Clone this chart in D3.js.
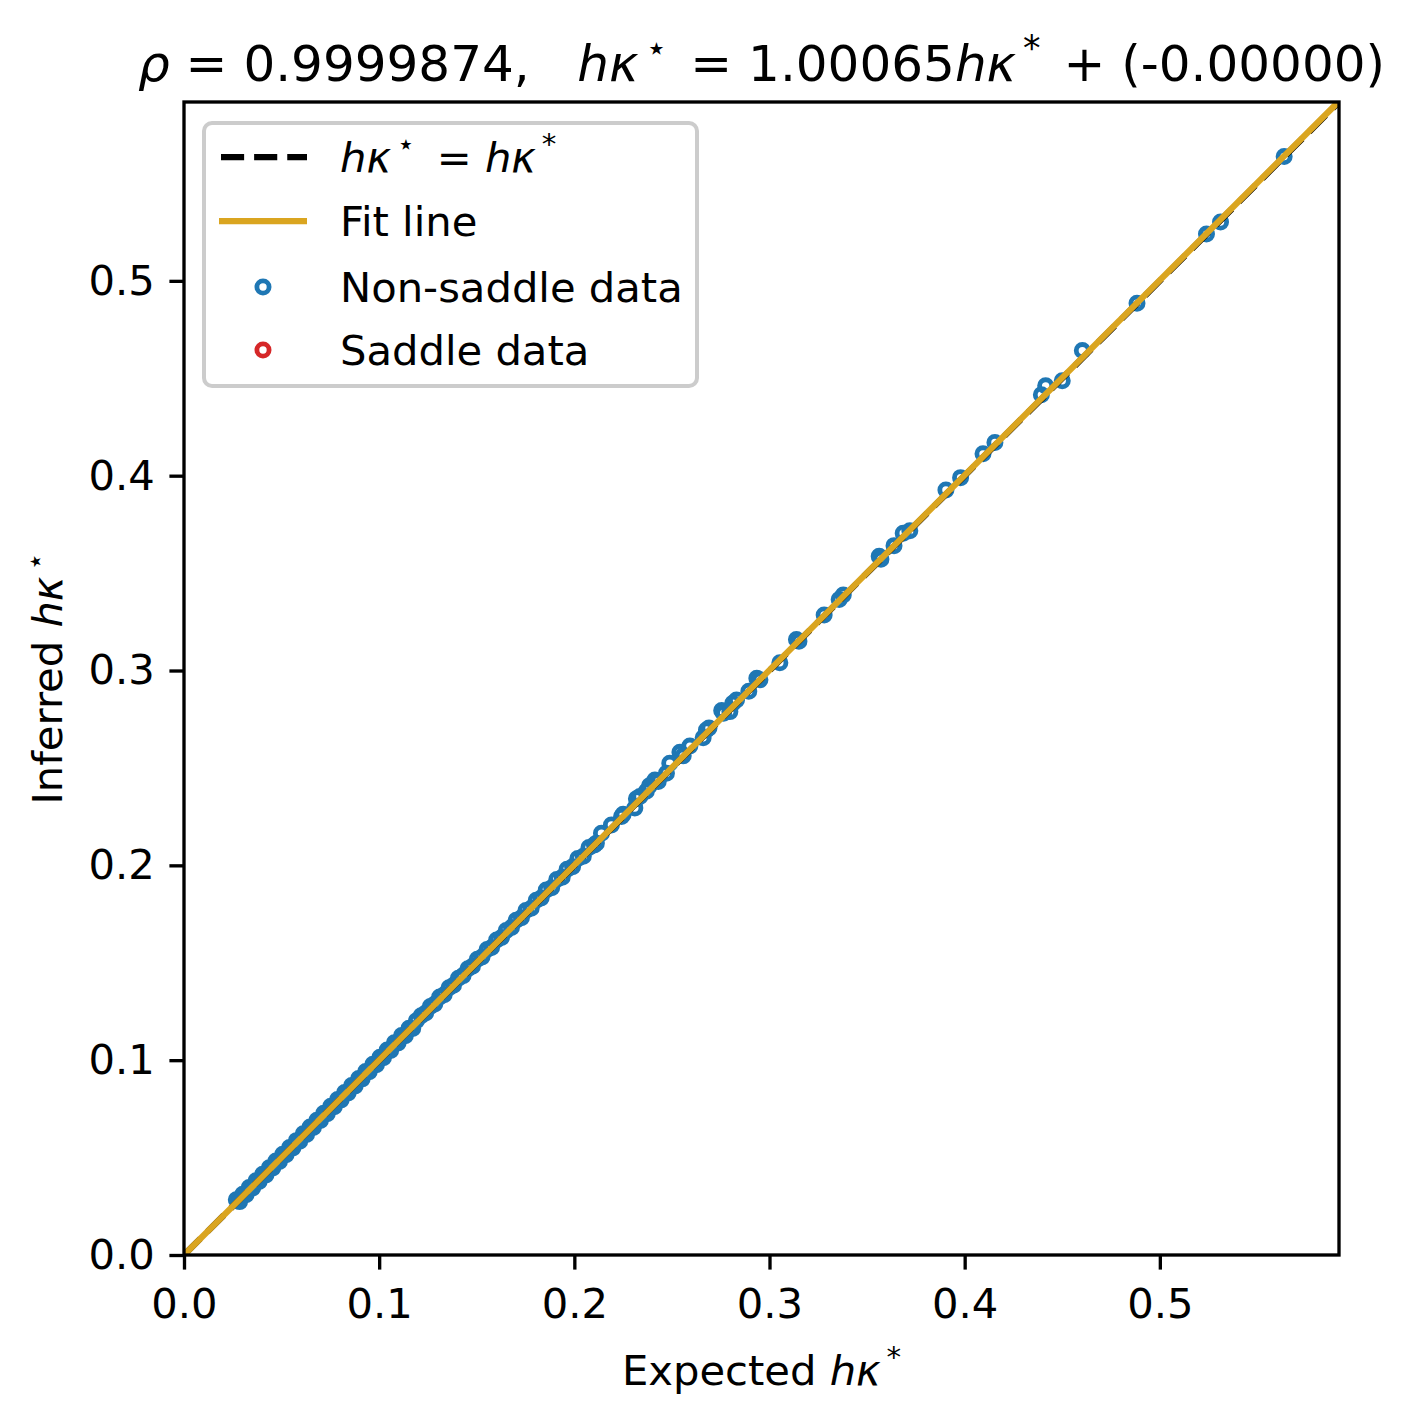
<!DOCTYPE html>
<html lang="en">
  <head>
    <meta charset="UTF-8">
    <title>Inferred vs expected</title>
    <style>
      body { margin: 0; background: #fff; }
      svg { display: block; }
      text { font-family: "DejaVu Sans", sans-serif; fill: #000; white-space: pre; }
    </style>
    <script src="https://d3js.org/d3.v7.min.js"></script>
  </head>
  <body>
    <script>
      // values
      var nonSaddleExpected = [
        0.0268, 0.0285, 0.0301, 0.0318, 0.0334, 0.0352, 0.0369, 0.0385, 0.0403, 0.0420,
        0.0437, 0.0455, 0.0471, 0.0489, 0.0506, 0.0523, 0.0541, 0.0558, 0.0576, 0.0593,
        0.0611, 0.0628, 0.0646, 0.0663, 0.0681, 0.0699, 0.0716, 0.0734, 0.0752, 0.0770,
        0.0787, 0.0805, 0.0823, 0.0841, 0.0859, 0.0877, 0.0895, 0.0913, 0.0931, 0.0949,
        0.0968, 0.0986, 0.1004, 0.1022, 0.1041, 0.1059, 0.1078, 0.1097, 0.1115, 0.1134,
        0.1153, 0.1172, 0.1191, 0.1215, 0.1238, 0.1262, 0.1285, 0.1310, 0.1333, 0.1358,
        0.1381, 0.1406, 0.1430, 0.1455, 0.1478, 0.1503, 0.1527, 0.1553, 0.1576, 0.1602,
        0.1627, 0.1651, 0.1678, 0.1702, 0.1729, 0.1752, 0.1779, 0.1805, 0.1830, 0.1856,
        0.1884, 0.1910, 0.1938, 0.1963, 0.1991, 0.2018, 0.2046, 0.2075, 0.2103, 0.2113,
        0.2139, 0.2190, 0.2242, 0.2250, 0.2310, 0.2318, 0.2336, 0.2369, 0.2385, 0.2413,
        0.2430, 0.2472, 0.2489, 0.2541, 0.2558, 0.2592, 0.2660, 0.2677, 0.2690, 0.2755,
        0.2765, 0.2797, 0.2812, 0.2831, 0.2894, 0.2935, 0.2951, 0.3053, 0.3138, 0.3151,
        0.3280, 0.3357, 0.3378, 0.3562, 0.3571, 0.3638, 0.3685, 0.3719, 0.3904, 0.3979,
        0.4094, 0.4155, 0.4393, 0.4415, 0.4500, 0.4603, 0.4883, 0.5239, 0.5311, 0.5637
      ];
      var nonSaddleInferred = [
        0.0283, 0.0274, 0.0312, 0.0309, 0.0346, 0.0344, 0.0381, 0.0377, 0.0414, 0.0411,
        0.0448, 0.0446, 0.0482, 0.0480, 0.0517, 0.0514, 0.0552, 0.0549, 0.0587, 0.0584,
        0.0622, 0.0619, 0.0657, 0.0654, 0.0692, 0.0690, 0.0727, 0.0725, 0.0763, 0.0761,
        0.0798, 0.0796, 0.0834, 0.0832, 0.0870, 0.0868, 0.0906, 0.0904, 0.0942, 0.0940,
        0.0979, 0.0977, 0.1015, 0.1013, 0.1052, 0.1050, 0.1089, 0.1088, 0.1126, 0.1125,
        0.1164, 0.1163, 0.1202, 0.1228, 0.1242, 0.1275, 0.1288, 0.1324, 0.1336, 0.1372,
        0.1385, 0.1420, 0.1434, 0.1469, 0.1482, 0.1518, 0.1529, 0.1568, 0.1578, 0.1617,
        0.1630, 0.1666, 0.1681, 0.1718, 0.1731, 0.1768, 0.1780, 0.1821, 0.1832, 0.1873,
        0.1885, 0.1927, 0.1939, 0.1980, 0.1993, 0.2035, 0.2047, 0.2091, 0.2105, 0.2114,
        0.2165, 0.2207, 0.2251, 0.2262, 0.2294, 0.2342, 0.2353, 0.2380, 0.2408, 0.2438,
        0.2430, 0.2473, 0.2524, 0.2580, 0.2562, 0.2612, 0.2655, 0.2695, 0.2705, 0.2795,
        0.2781, 0.2789, 0.2832, 0.2849, 0.2894, 0.2960, 0.2952, 0.3040, 0.3159, 0.3150,
        0.3285, 0.3364, 0.3388, 0.3587, 0.3571, 0.3641, 0.3705, 0.3717, 0.3927, 0.3990,
        0.4112, 0.4170, 0.4415, 0.4461, 0.4487, 0.4642, 0.4885, 0.5240, 0.5302, 0.5638
      ];
      var saddleExpected = [];
      var saddleInferred = [];

      var rho = 0.9999874;
      var fitSlope = 1.00065;
      var fitIntercept = -0.0;
      var axisMax = 0.5918;
      var tickValues = [0.0, 0.1, 0.2, 0.3, 0.4, 0.5];

      var W = 1417, H = 1426;
      var pLeft = 184, pTop = 102, pRight = 1339, pBottom = 1255;
      var fs = 41.7;      // 10pt at 300 dpi
      var lw = 6.25;      // 1.5pt
      var spine = 3.33;   // 0.8pt
      var mr = 6.1, mw = 4.8;  // marker radius / ring width

      var svg = d3.select("body").append("svg")
        .attr("width", W)
        .attr("height", H);

      var x = d3.scaleLinear().domain([0, axisMax]).range([pLeft, pRight]);
      var y = d3.scaleLinear().domain([0, axisMax]).range([pBottom, pTop]);

      svg.append("defs").append("clipPath").attr("id", "plot")
        .append("rect")
        .attr("x", pLeft).attr("y", pTop)
        .attr("width", pRight - pLeft).attr("height", pBottom - pTop);

      var plot = svg.append("g").attr("clip-path", "url(#plot)");

      var pts = nonSaddleExpected.map(function (d, i) {
        return { e: d, inf: nonSaddleInferred[i] };
      });
      var spts = saddleExpected.map(function (d, i) {
        return { e: d, inf: saddleInferred[i] };
      });

      plot.selectAll("circle.ns").data(pts).enter().append("circle")
        .attr("class", "ns")
        .attr("cx", function (d) { return x(d.e); })
        .attr("cy", function (d) { return y(d.inf); })
        .attr("r", mr)
        .attr("fill", "none")
        .attr("stroke", "#1f77b4")
        .attr("stroke-width", mw);

      plot.selectAll("circle.sd").data(spts).enter().append("circle")
        .attr("class", "sd")
        .attr("cx", function (d) { return x(d.e); })
        .attr("cy", function (d) { return y(d.inf); })
        .attr("r", mr)
        .attr("fill", "none")
        .attr("stroke", "#d62728")
        .attr("stroke-width", mw);

      var line = d3.line()
        .x(function (d) { return x(d[0]); })
        .y(function (d) { return y(d[1]); });

      plot.append("path")
        .datum([[0, 0], [axisMax, axisMax]])
        .attr("d", line)
        .attr("fill", "none")
        .attr("stroke", "#000")
        .attr("stroke-width", lw)
        .attr("stroke-dasharray", (3.7 * lw) + "," + (1.6 * lw));

      plot.append("path")
        .datum([[0, fitIntercept], [axisMax, fitSlope * axisMax + fitIntercept]])
        .attr("d", line)
        .attr("fill", "none")
        .attr("stroke", "#daa520")
        .attr("stroke-width", lw);

      // axes
      var fmt = d3.format(".1f");
      var gx = svg.append("g")
        .attr("transform", "translate(0," + pBottom + ")")
        .call(d3.axisBottom(x).tickValues(tickValues).tickFormat(fmt)
          .tickSize(14.6).tickSizeOuter(0).tickPadding(18.8));
      var gy = svg.append("g")
        .attr("transform", "translate(" + pLeft + ",0)")
        .call(d3.axisLeft(y).tickValues(tickValues).tickFormat(fmt)
          .tickSize(14.6).tickSizeOuter(0).tickPadding(14.6));

      [gx, gy].forEach(function (g) {
        g.select(".domain").remove();
        g.selectAll(".tick line").attr("stroke", "#000").attr("stroke-width", spine);
        g.selectAll(".tick text")
          .attr("fill", "#000")
          .style("font-size", fs + "px")
          .style("font-family", "'DejaVu Sans', sans-serif");
      });

      svg.append("rect")
        .attr("x", pLeft).attr("y", pTop)
        .attr("width", pRight - pLeft).attr("height", pBottom - pTop)
        .attr("fill", "none")
        .attr("stroke", "#000")
        .attr("stroke-width", spine);

      // mathtext-ish: pieces are [text, italic, superscript]
      function rich(sel, size, parts) {
        var shift = 0;
        parts.forEach(function (p) {
          var up = p[2] ? -0.42 * size : 0;
          var t = sel.append("tspan").text(p[0]).attr("dy", (up - shift));
          shift = up;
          if (p[1]) t.attr("font-style", "italic");
          if (p[2]) t.attr("font-size", (0.7 * size) + "px");
        });
      }

      // title
      var tfs = 50;
      var title = svg.append("text")
        .attr("x", (pLeft + pRight) / 2).attr("y", 81)
        .attr("text-anchor", "middle")
        .style("font-size", tfs + "px");
      rich(title, tfs, [
        ["\u03c1", true], [" = " + rho.toFixed(7) + ",   "],
        ["h\u03ba", true], ["\u2009\u22c6\u2009", false, true],
        [" = " + fitSlope.toFixed(5)],
        ["h\u03ba", true], ["\u2009*\u2009", false, true],
        [" + (-" + Math.abs(fitIntercept).toFixed(5) + ")"]
      ]);

      // axis labels
      var xl = svg.append("text")
        .attr("x", (pLeft + pRight) / 2).attr("y", 1385)
        .attr("text-anchor", "middle")
        .style("font-size", fs + "px");
      rich(xl, fs, [["Expected "], ["h\u03ba", true], ["\u2009*", false, true]]);

      var yl = svg.append("text")
        .attr("transform", "translate(62," + ((pTop + pBottom) / 2) + ") rotate(-90)")
        .attr("text-anchor", "middle")
        .style("font-size", fs + "px");
      rich(yl, fs, [["Inferred "], ["h\u03ba", true], ["\u2009\u22c6", false, true]]);

      // legend
      var lg = svg.append("g");
      lg.append("rect")
        .attr("x", 204).attr("y", 123)
        .attr("width", 493).attr("height", 263)
        .attr("rx", 8).attr("ry", 8)
        .attr("fill", "#fff").attr("fill-opacity", 0.8)
        .attr("stroke", "#cccccc").attr("stroke-width", 4);

      var rows = [157, 221, 287, 350];
      lg.append("line")
        .attr("x1", 221).attr("x2", 307).attr("y1", rows[0]).attr("y2", rows[0])
        .attr("stroke", "#000").attr("stroke-width", lw)
        .attr("stroke-dasharray", (3.7 * lw) + "," + (1.6 * lw));
      lg.append("line")
        .attr("x1", 219).attr("x2", 307).attr("y1", rows[1]).attr("y2", rows[1])
        .attr("stroke", "#daa520").attr("stroke-width", lw);
      lg.append("circle").attr("cx", 263).attr("cy", rows[2]).attr("r", mr)
        .attr("fill", "none").attr("stroke", "#1f77b4").attr("stroke-width", mw);
      lg.append("circle").attr("cx", 263).attr("cy", rows[3]).attr("r", mr)
        .attr("fill", "none").attr("stroke", "#d62728").attr("stroke-width", mw);

      var t0 = lg.append("text")
        .attr("x", 340).attr("y", rows[0] + 15)
        .style("font-size", fs + "px");
      rich(t0, fs, [
        ["h\u03ba", true], ["\u2009\u22c6", false, true], [" \u2009= "],
        ["h\u03ba", true], ["\u2009*", false, true]
      ]);

      lg.append("text").attr("x", 340).attr("y", rows[1] + 15)
        .style("font-size", fs + "px").text("Fit line");
      lg.append("text").attr("x", 340).attr("y", rows[2] + 15)
        .style("font-size", fs + "px").text("Non-saddle data");
      lg.append("text").attr("x", 340).attr("y", rows[3] + 15)
        .style("font-size", fs + "px").text("Saddle data");
    </script>
  </body>
</html>
